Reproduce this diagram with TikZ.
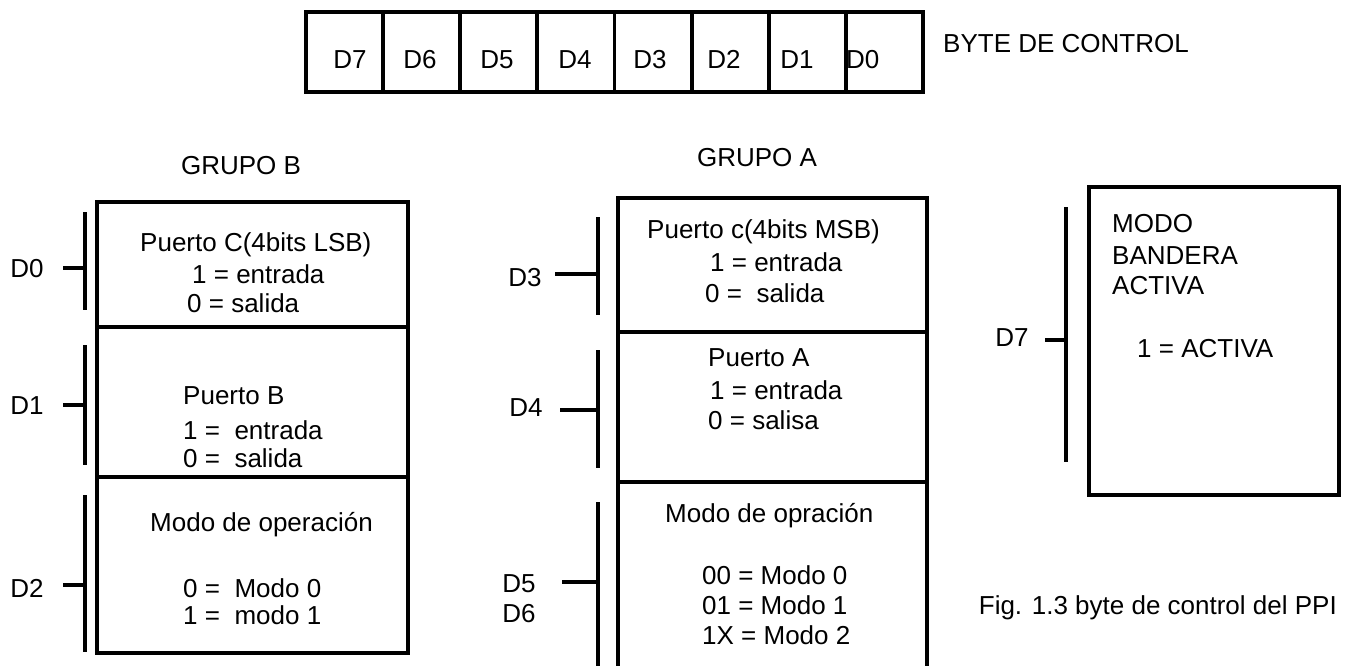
\documentclass[tikz,border=0pt]{standalone}
\usepackage{fontspec}
\setmainfont{Liberation Sans}
\begin{document}
\begin{tikzpicture}[x=1pt,y=-1pt,
  txt/.style={inner sep=0pt, text height=18.5pt, text depth=0pt, font=\fontsize{26}{31}\selectfont},
  lt/.style={txt, anchor=west},
  box/.style={draw, line width=3.8pt},
  cell/.style={draw, line width=3.8pt, minimum width=77.125pt, minimum height=80pt, inner sep=0pt},
  brk/.style={line width=4.5pt},
  tickline/.style={line width=3.8pt}]
\useasboundingbox (0,0) rectangle (1348,665);

% ---- byte de control ----
\foreach \k in {0,...,7}{
  \pgfmathsetmacro{\cx}{306+77.125*(\k+0.5)}
  \node[cell] (c\k) at (\cx,52) {};
}
\node[txt] (l7) at (350,59) {D7};
\node[txt] (l6) at (420,59) {D6};
\node[txt] (l5) at (497,59) {D5};
\node[txt] (l4) at (575,59) {D4};
\node[txt] (l3) at (650,59) {D3};
\node[txt] (l2) at (724,59) {D2};
\node[txt] (l1) at (797,59) {D1};
\node[lt]  (l0) at (846,59) {D0};
\node[lt]  (byte) at (943,43) {BYTE DE CONTROL};

% ---- grupo B ----
\node[txt] (gb) at (241,165) {GRUPO B};
\draw[box] (97,202) rectangle (408,653);
\draw[box] (97,327) -- (408,327);
\draw[box] (97,477) -- (408,477);
\node[lt] (b1) at (140,242) {Puerto C(4bits LSB)};
\node[lt] (b2) at (192,274) {1 = entrada};
\node[lt] (b3) at (187,303) {0 = salida};
\node[lt] (b4) at (183,395) {Puerto B};
\node[lt] (b5) at (183,430) {1 = \ entrada};
\node[lt] (b6) at (183,458) {0 = \ salida};
\node[lt] (b7) at (150,522) {Modo de operación};
\node[lt] (b8) at (183,588) {0 = \ Modo 0};
\node[lt] (b9) at (183,615) {1 = \ modo 1};
\draw[brk] (85,212) -- (85,310);
\draw[brk] (85,345) -- (85,465);
\draw[brk] (85,495) -- (85,652);
\node[txt] (d0) at (27,268) {D0};
\node[txt] (d1) at (27,405) {D1};
\node[txt] (d2) at (27,588) {D2};
\coordinate (t0a) at (63,268); \coordinate (t0b) at (85,268);
\coordinate (t1a) at (63,405); \coordinate (t1b) at (85,405);
\coordinate (t2a) at (63,585); \coordinate (t2b) at (85,585);
\draw[tickline] (t0a) -- (t0b);
\draw[tickline] (t1a) -- (t1b);
\draw[tickline] (t2a) -- (t2b);

% ---- grupo A ----
\node[txt] (ga) at (757,157) {GRUPO A};
\draw[box] (618,670) -- (618,198) -- (927,198) -- (927,670);
\draw[box] (618,332) -- (927,332);
\draw[box] (618,482) -- (927,482);
\node[lt] (a1) at (647,229) {Puerto c(4bits MSB)};
\node[lt] (a2) at (710,262) {1 = entrada};
\node[lt] (a3) at (705,293) {0 = \ salida};
\node[lt] (a4) at (708,357) {Puerto A};
\node[lt] (a5) at (710,390) {1 = entrada};
\node[lt] (a6) at (708,420) {0 = salisa};
\node[lt] (a7) at (665,513) {Modo de opración};
\node[lt] (a8) at (702,575) {00 = Modo 0};
\node[lt] (a9) at (702,605) {01 = Modo 1};
\node[lt] (a10) at (702,635) {1X = Modo 2};
\draw[brk] (598,217) -- (598,315);
\draw[brk] (598,350) -- (598,468);
\draw[brk] (598,502) -- (598,670);
\node[txt] (d3) at (525,277) {D3};
\node[txt] (d4) at (526,407) {D4};
\node[txt] (d5) at (519,583) {D5};
\node[txt] (d6) at (519,613) {D6};
\coordinate (t3a) at (555,274); \coordinate (t3b) at (598,274);
\coordinate (t4a) at (560,410); \coordinate (t4b) at (598,410);
\coordinate (t5a) at (562,582); \coordinate (t5b) at (598,582);
\draw[tickline] (t3a) -- (t3b);
\draw[tickline] (t4a) -- (t4b);
\draw[tickline] (t5a) -- (t5b);

% ---- bandera ----
\draw[box] (1089,187) rectangle (1339,495);
\node[lt] (r1) at (1112,223) {MODO};
\node[lt] (r2) at (1112,255) {BANDERA};
\node[lt] (r3) at (1112,285) {ACTIVA};
\node[lt] (r4) at (1137,348) {1 = ACTIVA};
\draw[brk] (1066,207) -- (1066,462);
\node[txt] (d7) at (1012,337) {D7};
\coordinate (t7a) at (1045,340); \coordinate (t7b) at (1066,340);
\draw[tickline] (t7a) -- (t7b);

% ---- caption ----
\node[txt, anchor=east] (cap) at (1337,605) {Fig. 1.3 byte de control del PPI};
\end{tikzpicture}
\end{document}
